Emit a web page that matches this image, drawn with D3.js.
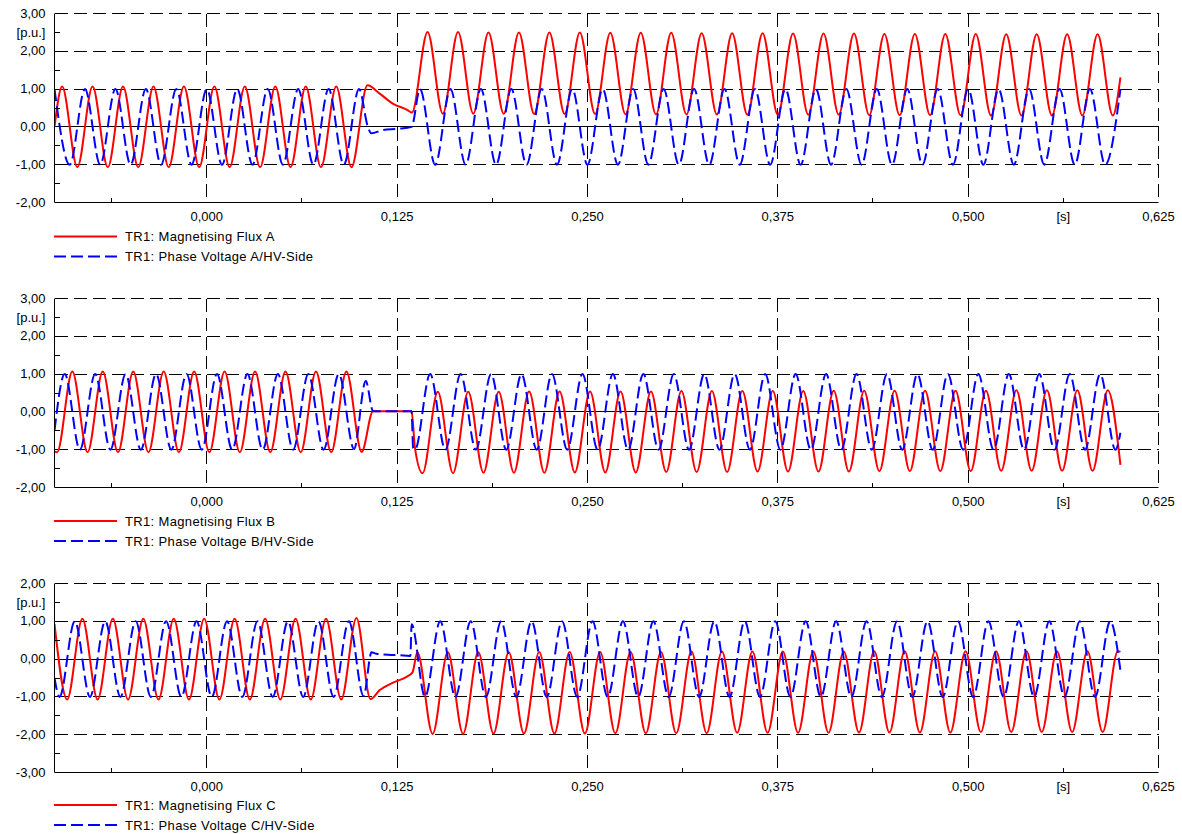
<!DOCTYPE html>
<html>
<head>
<meta charset="utf-8">
<script src="https://cdn.jsdelivr.net/npm/d3@7/dist/d3.min.js"></script>
<style>
  html, body { margin: 0; padding: 0; background: #ffffff; }
  svg { display: block; }
</style>
</head>
<body>
<svg id="chart" width="1182" height="834"></svg>
<script>
// ================= DATA =================
// time axis [s]
const xTickValues = [0, 0.125, 0.25, 0.375, 0.5, 0.625];
const xTickLabels = ["0,000", "0,125", "0,250", "0,375", "0,500", "0,625"];
const xMinorValues = [-0.0625, 0.0625, 0.1875, 0.3125, 0.4375, 0.5625];
const xUnitAt = 0.5625;
const xUnitLabel = "[s]";

// value axes [p.u.]
const yUnitLabel = "[p.u.]";
const yDomainAB = [-2, 3];
const yTicksAB = [3, 2, 1, 0, -1, -2];
const yTickLabelsAB = ["3,00", "2,00", "1,00", "0,00", "-1,00", "-2,00"];
const yMinorAB = [2.5, 1.5, 0.5, -0.5, -1.5];
const yUnitAtAB = 2.5;
const yDomainC = [-3, 2];
const yTicksC = [2, 1, 0, -1, -2, -3];
const yTickLabelsC = ["2,00", "1,00", "0,00", "-1,00", "-2,00", "-3,00"];
const yMinorC = [1.5, 0.5, -0.5, -1.5, -2.5];
const yUnitAtC = 1.5;

// legend texts
const legendFlux = ["TR1: Magnetising Flux A", "TR1: Magnetising Flux B", "TR1: Magnetising Flux C"];
const legendVolt = ["TR1: Phase Voltage A/HV-Side", "TR1: Phase Voltage B/HV-Side", "TR1: Phase Voltage C/HV-Side"];

// waveform key points [time s, value p.u.] (extrema and transition points)
const fluxA = [
  [-0.100, 0.00], [-0.095, 1.07], [-0.085, -1.07], [-0.075, 1.07], [-0.065, -1.07], [-0.055, 1.07], [-0.045, -1.07],
  [-0.035, 1.07], [-0.025, -1.07], [-0.015, 1.07], [-0.005, -1.07], [0.005, 1.07], [0.015, -1.07], [0.025, 1.07],
  [0.035, -1.07], [0.045, 1.07], [0.055, -1.07], [0.065, 1.07], [0.075, -1.07], [0.085, 1.07], [0.095, -1.07],
  [0.1055, 1.10], [0.1136, 0.88], [0.1224, 0.61], [0.1312, 0.46], [0.1347, 0.38],
  [0.145, 2.51], [0.155, 0.35], [0.165, 2.51], [0.175, 0.35], [0.185, 2.50], [0.195, 0.35], [0.205, 2.50], [0.215, 0.34],
  [0.225, 2.50], [0.235, 0.34], [0.245, 2.50], [0.255, 0.34], [0.265, 2.49], [0.275, 0.33], [0.285, 2.49], [0.295, 0.33],
  [0.305, 2.49], [0.315, 0.33], [0.325, 2.48], [0.335, 0.33], [0.345, 2.48], [0.355, 0.32], [0.365, 2.48], [0.375, 0.32],
  [0.385, 2.47], [0.395, 0.32], [0.405, 2.47], [0.415, 0.32], [0.425, 2.47], [0.435, 0.31], [0.445, 2.46], [0.455, 0.31],
  [0.465, 2.46], [0.475, 0.31], [0.485, 2.46], [0.495, 0.31], [0.505, 2.46], [0.515, 0.30], [0.525, 2.45], [0.535, 0.30],
  [0.545, 2.45], [0.555, 0.30], [0.565, 2.45], [0.575, 0.30], [0.585, 2.45], [0.595, 0.30], [0.600, 1.31]
];
const voltA = [
  [-0.10, 1.00], [-0.09, -1.00], [-0.08, 1.00], [-0.07, -1.00], [-0.06, 1.00], [-0.05, -1.00], [-0.04, 1.00],
  [-0.03, -1.00], [-0.02, 1.00], [-0.01, -1.00], [0.00, 1.00], [0.01, -1.00], [0.02, 1.00], [0.03, -1.00],
  [0.04, 1.00], [0.05, -1.00], [0.06, 1.00], [0.07, -1.00], [0.08, 1.00], [0.09, -1.00], [0.10, 1.00],
  [0.1058, 0.00], [0.1080, -0.17], [0.1158, -0.08], [0.1257, -0.05], [0.1345, 0.00],
  [0.14, 1.00], [0.15, -1.00], [0.16, 1.00], [0.17, -1.00], [0.18, 1.00], [0.19, -1.00], [0.20, 1.00], [0.21, -1.00],
  [0.22, 1.00], [0.23, -1.00], [0.24, 1.00], [0.25, -1.00], [0.26, 1.00], [0.27, -1.00], [0.28, 1.00], [0.29, -1.00],
  [0.30, 1.00], [0.31, -1.00], [0.32, 1.00], [0.33, -1.00], [0.34, 1.00], [0.35, -1.00], [0.36, 1.00], [0.37, -1.00],
  [0.38, 1.00], [0.39, -1.00], [0.40, 1.00], [0.41, -1.00], [0.42, 1.00], [0.43, -1.00], [0.44, 1.00], [0.45, -1.00],
  [0.46, 1.00], [0.47, -1.00], [0.48, 1.00], [0.49, -1.00], [0.50, 1.00], [0.51, -1.00], [0.52, 1.00], [0.53, -1.00],
  [0.54, 1.00], [0.55, -1.00], [0.56, 1.00], [0.57, -1.00], [0.58, 1.00], [0.59, -1.00], [0.60, 1.00]
];
const fluxB = [
  [-0.100, -1.04], [-0.0983, -1.07], [-0.0883, 1.07], [-0.0783, -1.07], [-0.0683, 1.07], [-0.0583, -1.07], [-0.0483, 1.07],
  [-0.0383, -1.07], [-0.0283, 1.07], [-0.0183, -1.07], [-0.0083, 1.07], [0.0017, -1.07], [0.0117, 1.07], [0.0217, -1.07],
  [0.0317, 1.07], [0.0417, -1.07], [0.0517, 1.07], [0.0617, -1.07], [0.0717, 1.07], [0.0817, -1.07], [0.0917, 1.07],
  [0.1017, -1.06], [0.1092, 0.02], [0.1345, 0.02], [0.1367, -0.95],
  [0.1417, -1.62], [0.1517, 0.53], [0.1617, -1.62], [0.1717, 0.53], [0.1817, -1.61], [0.1917, 0.53], [0.2017, -1.61],
  [0.2117, 0.54], [0.2217, -1.61], [0.2317, 0.54], [0.2417, -1.60], [0.2517, 0.54], [0.2617, -1.60], [0.2717, 0.54],
  [0.2817, -1.60], [0.2917, 0.54], [0.3017, -1.59], [0.3117, 0.55], [0.3217, -1.59], [0.3317, 0.55], [0.3417, -1.59],
  [0.3517, 0.55], [0.3617, -1.58], [0.3717, 0.55], [0.3817, -1.58], [0.3917, 0.55], [0.4017, -1.58], [0.4117, 0.56],
  [0.4217, -1.58], [0.4317, 0.56], [0.4417, -1.57], [0.4517, 0.56], [0.4617, -1.57], [0.4717, 0.56], [0.4817, -1.57],
  [0.4917, 0.56], [0.5017, -1.57], [0.5117, 0.56], [0.5217, -1.56], [0.5317, 0.57], [0.5417, -1.56], [0.5517, 0.57],
  [0.5617, -1.56], [0.5717, 0.57], [0.5817, -1.56], [0.5917, 0.57], [0.600, -1.40]
];
const voltB = [
  [-0.100, -0.50], [-0.0933, 1.00], [-0.0833, -1.00], [-0.0733, 1.00], [-0.0633, -1.00], [-0.0533, 1.00], [-0.0433, -1.00],
  [-0.0333, 1.00], [-0.0233, -1.00], [-0.0133, 1.00], [-0.0033, -1.00], [0.0067, 1.00], [0.0167, -1.00], [0.0267, 1.00],
  [0.0367, -1.00], [0.0467, 1.00], [0.0567, -1.00], [0.0667, 1.00], [0.0767, -1.00], [0.0867, 1.00], [0.0967, -0.98],
  [0.1044, 0.82], [0.1092, 0.02], [0.1345, 0.02], [0.1355, -0.95],
  [0.1367, -1.00], [0.1467, 1.00], [0.1567, -1.00], [0.1667, 1.00], [0.1767, -1.00], [0.1867, 1.00], [0.1967, -1.00],
  [0.2067, 1.00], [0.2167, -1.00], [0.2267, 1.00], [0.2367, -1.00], [0.2467, 1.00], [0.2567, -1.00], [0.2667, 1.00],
  [0.2767, -1.00], [0.2867, 1.00], [0.2967, -1.00], [0.3067, 1.00], [0.3167, -1.00], [0.3267, 1.00], [0.3367, -1.00],
  [0.3467, 1.00], [0.3567, -1.00], [0.3667, 1.00], [0.3767, -1.00], [0.3867, 1.00], [0.3967, -1.00], [0.4067, 1.00],
  [0.4167, -1.00], [0.4267, 1.00], [0.4367, -1.00], [0.4467, 1.00], [0.4567, -1.00], [0.4667, 1.00], [0.4767, -1.00],
  [0.4867, 1.00], [0.4967, -1.00], [0.5067, 1.00], [0.5167, -1.00], [0.5267, 1.00], [0.5367, -1.00], [0.5467, 1.00],
  [0.5567, -1.00], [0.5667, 1.00], [0.5767, -1.00], [0.5867, 1.00], [0.5967, -1.00], [0.600, -0.55]
];
const fluxC = [
  [-0.100, 0.93], [-0.0917, -1.07], [-0.0817, 1.07], [-0.0717, -1.07], [-0.0617, 1.07], [-0.0517, -1.07], [-0.0417, 1.07],
  [-0.0317, -1.07], [-0.0217, 1.07], [-0.0117, -1.07], [-0.0017, 1.07], [0.0083, -1.07], [0.0183, 1.07], [0.0283, -1.07],
  [0.0383, 1.07], [0.0483, -1.07], [0.0583, 1.07], [0.0683, -1.07], [0.0783, 1.07], [0.0883, -1.07], [0.0983, 1.09],
  [0.1075, -1.06], [0.1136, -0.82], [0.1224, -0.62], [0.1312, -0.47], [0.1351, -0.35],
  [0.1383, 0.18], [0.1483, -1.98], [0.1583, 0.18], [0.1683, -1.98], [0.1783, 0.18], [0.1883, -1.97], [0.1983, 0.18],
  [0.2083, -1.97], [0.2183, 0.19], [0.2283, -1.97], [0.2383, 0.19], [0.2483, -1.97], [0.2583, 0.19], [0.2683, -1.96],
  [0.2783, 0.19], [0.2883, -1.96], [0.2983, 0.19], [0.3083, -1.96], [0.3183, 0.20], [0.3283, -1.96], [0.3383, 0.20],
  [0.3483, -1.95], [0.3583, 0.20], [0.3683, -1.95], [0.3783, 0.20], [0.3883, -1.95], [0.3983, 0.20], [0.4083, -1.95],
  [0.4183, 0.20], [0.4283, -1.94], [0.4383, 0.21], [0.4483, -1.94], [0.4583, 0.21], [0.4683, -1.94], [0.4783, 0.21],
  [0.4883, -1.94], [0.4983, 0.21], [0.5083, -1.93], [0.5183, 0.21], [0.5283, -1.93], [0.5383, 0.21], [0.5483, -1.93],
  [0.5583, 0.21], [0.5683, -1.93], [0.5783, 0.21], [0.5883, -1.93], [0.5983, 0.21], [0.600, 0.19]
];
const voltC = [
  [-0.100, -0.50], [-0.0967, -1.00], [-0.0867, 1.00], [-0.0767, -1.00], [-0.0667, 1.00], [-0.0567, -1.00], [-0.0467, 1.00],
  [-0.0367, -1.00], [-0.0267, 1.00], [-0.0167, -1.00], [-0.0067, 1.00], [0.0033, -1.00], [0.0133, 1.00], [0.0233, -1.00],
  [0.0333, 1.00], [0.0433, -1.00], [0.0533, 1.00], [0.0633, -1.00], [0.0733, 1.00], [0.0833, -1.00], [0.0933, 1.00],
  [0.1030, -0.98], [0.1082, 0.18], [0.1115, 0.14], [0.1224, 0.11], [0.1312, 0.09], [0.1337, 0.08], [0.1345, 0.92],
  [0.1433, -1.00], [0.1533, 1.00], [0.1633, -1.00], [0.1733, 1.00], [0.1833, -1.00], [0.1933, 1.00], [0.2033, -1.00],
  [0.2133, 1.00], [0.2233, -1.00], [0.2333, 1.00], [0.2433, -1.00], [0.2533, 1.00], [0.2633, -1.00], [0.2733, 1.00],
  [0.2833, -1.00], [0.2933, 1.00], [0.3033, -1.00], [0.3133, 1.00], [0.3233, -1.00], [0.3333, 1.00], [0.3433, -1.00],
  [0.3533, 1.00], [0.3633, -1.00], [0.3733, 1.00], [0.3833, -1.00], [0.3933, 1.00], [0.4033, -1.00], [0.4133, 1.00],
  [0.4233, -1.00], [0.4333, 1.00], [0.4433, -1.00], [0.4533, 1.00], [0.4633, -1.00], [0.4733, 1.00], [0.4833, -1.00],
  [0.4933, 1.00], [0.5033, -1.00], [0.5133, 1.00], [0.5233, -1.00], [0.5333, 1.00], [0.5433, -1.00], [0.5533, 1.00],
  [0.5633, -1.00], [0.5733, 1.00], [0.5833, -1.00], [0.5933, 1.00], [0.600, -0.30]
];

// ================= LAYOUT / DRAWING =================
const FONT = '"Liberation Sans", Arial, Helvetica, sans-serif';
const FS = 13;
const plotX = [54.5, 1158.5];
const panelTops = [13.5, 298.5, 583.5];
const legendOffsets = [34, 33.5, 32.5];
const panelH = 189;
const GRID_DASH = "13,6";
const VOLT_DASH = "12,5";
const RED = "#ff0000", BLUE = "#0000ff";

const panels = [
  { flux: fluxA, volt: voltA, dom: yDomainAB, ticks: yTicksAB, labels: yTickLabelsAB, minor: yMinorAB, unitAt: yUnitAtAB, names: [legendFlux[0], legendVolt[0]] },
  { flux: fluxB, volt: voltB, dom: yDomainAB, ticks: yTicksAB, labels: yTickLabelsAB, minor: yMinorAB, unitAt: yUnitAtAB, names: [legendFlux[1], legendVolt[1]] },
  { flux: fluxC, volt: voltC, dom: yDomainC, ticks: yTicksC, labels: yTickLabelsC, minor: yMinorC, unitAt: yUnitAtC, names: [legendFlux[2], legendVolt[2]] }
];

const svg = d3.select("#chart");
svg.append("rect").attr("width", 1182).attr("height", 834).attr("fill", "#ffffff");
const x = d3.scaleLinear().domain([-0.1, 0.625]).range(plotX);

function styleAxis(sel) {
  sel.attr("font-family", FONT).attr("font-size", FS).attr("color", "#000");
  sel.selectAll("text").attr("fill", "#000");
}

panels.forEach((p, i) => {
  const top = panelTops[i], bottom = top + panelH;
  const y = d3.scaleLinear().domain(p.dom).range([bottom, top]);
  const g = svg.append("g");

  // horizontal grid lines (zero line solid)
  g.append("g").selectAll("line")
    .data(p.ticks.filter(v => v !== p.dom[0]))
    .join("line")
    .attr("x1", plotX[0]).attr("x2", plotX[1])
    .attr("y1", d => y(d)).attr("y2", d => y(d))
    .attr("stroke", "#000").attr("stroke-width", 1)
    .attr("shape-rendering", "crispEdges")
    .attr("stroke-dasharray", d => d === 0 ? null : GRID_DASH);

  // vertical grid lines
  g.append("g").selectAll("line")
    .data(xTickValues)
    .join("line")
    .attr("x1", d => x(d)).attr("x2", d => x(d))
    .attr("y1", top).attr("y2", bottom)
    .attr("stroke", "#000").attr("stroke-width", 1)
    .attr("shape-rendering", "crispEdges")
    .attr("stroke-dasharray", GRID_DASH);

  // clip path for the curves
  const clipId = "plotclip" + i;
  svg.append("clipPath").attr("id", clipId)
    .append("rect")
    .attr("x", plotX[0]).attr("y", top - 3)
    .attr("width", plotX[1] - plotX[0]).attr("height", panelH + 6);

  const line = d3.line()
    .x(d => x(d[0]))
    .y(d => y(d[1]))
    .curve(d3.curveMonotoneX);

  g.append("path").datum(p.flux)
    .attr("d", line)
    .attr("fill", "none").attr("stroke", RED).attr("stroke-width", 2)
    .attr("stroke-linejoin", "round")
    .attr("clip-path", `url(#${clipId})`);

  g.append("path").datum(p.volt)
    .attr("d", line)
    .attr("fill", "none").attr("stroke", BLUE).attr("stroke-width", 2)
    .attr("stroke-dasharray", VOLT_DASH)
    .attr("stroke-linejoin", "round")
    .attr("clip-path", `url(#${clipId})`);

  // y axis (solid left border + labels)
  const yAxis = d3.axisLeft(y).tickValues(p.ticks)
    .tickFormat((d, j) => p.labels[j])
    .tickSize(0).tickSizeOuter(0).tickPadding(9).offset(0);
  const gy = g.append("g").attr("transform", `translate(${plotX[0]},0)`).call(yAxis);
  styleAxis(gy);
  gy.select(".domain").attr("stroke", "#000").attr("stroke-width", 1);

  // y minor ticks (pointing inward)
  const yMinorAxis = d3.axisRight(y).tickValues(p.minor).tickFormat("").tickSize(5).tickSizeOuter(0).offset(0);
  const gym = g.append("g").attr("transform", `translate(${plotX[0]},0)`).call(yMinorAxis);
  gym.select(".domain").remove();
  gym.selectAll("line").attr("stroke", "#000").attr("shape-rendering", "crispEdges");

  // x axis (solid bottom border + labels)
  const xAxis = d3.axisBottom(x).tickValues(xTickValues)
    .tickFormat((d, j) => xTickLabels[j])
    .tickSize(0).tickSizeOuter(0).tickPadding(9).offset(0);
  const gx = g.append("g").attr("transform", `translate(0,${bottom})`).call(xAxis);
  styleAxis(gx);
  gx.select(".domain").attr("stroke", "#000").attr("stroke-width", 1);

  // x minor ticks (pointing inward / up)
  const xMinorAxis = d3.axisTop(x).tickValues(xMinorValues).tickFormat("").tickSize(5).tickSizeOuter(0).offset(0);
  const gxm = g.append("g").attr("transform", `translate(0,${bottom})`).call(xMinorAxis);
  gxm.select(".domain").remove();
  gxm.selectAll("line").attr("stroke", "#000").attr("shape-rendering", "crispEdges");

  // unit labels
  g.append("text")
    .attr("x", plotX[0] - 9).attr("y", y(p.unitAt)).attr("dy", "0.32em")
    .attr("text-anchor", "end")
    .attr("font-family", FONT).attr("font-size", FS).attr("fill", "#000")
    .text(yUnitLabel);
  g.append("text")
    .attr("x", x(xUnitAt)).attr("y", bottom + 9).attr("dy", "0.71em")
    .attr("text-anchor", "middle")
    .attr("font-family", FONT).attr("font-size", FS).attr("fill", "#000")
    .text(xUnitLabel);

  // legend
  const lo = legendOffsets[i];
  const legendRows = [
    { name: p.names[0], color: RED, dash: null, y: bottom + lo },
    { name: p.names[1], color: BLUE, dash: VOLT_DASH, y: bottom + lo + 20 }
  ];
  const lg = g.append("g");
  lg.selectAll("line").data(legendRows).join("line")
    .attr("x1", 54).attr("x2", 117)
    .attr("y1", d => d.y).attr("y2", d => d.y)
    .attr("stroke", d => d.color).attr("stroke-width", 2)
    .attr("stroke-dasharray", d => d.dash);
  lg.selectAll("text").data(legendRows).join("text")
    .attr("x", 125).attr("y", d => d.y).attr("dy", "0.35em")
    .attr("font-family", FONT).attr("font-size", FS).attr("letter-spacing", "0.35px")
    .attr("fill", "#000")
    .text(d => d.name);
});
</script>
</body>
</html>
